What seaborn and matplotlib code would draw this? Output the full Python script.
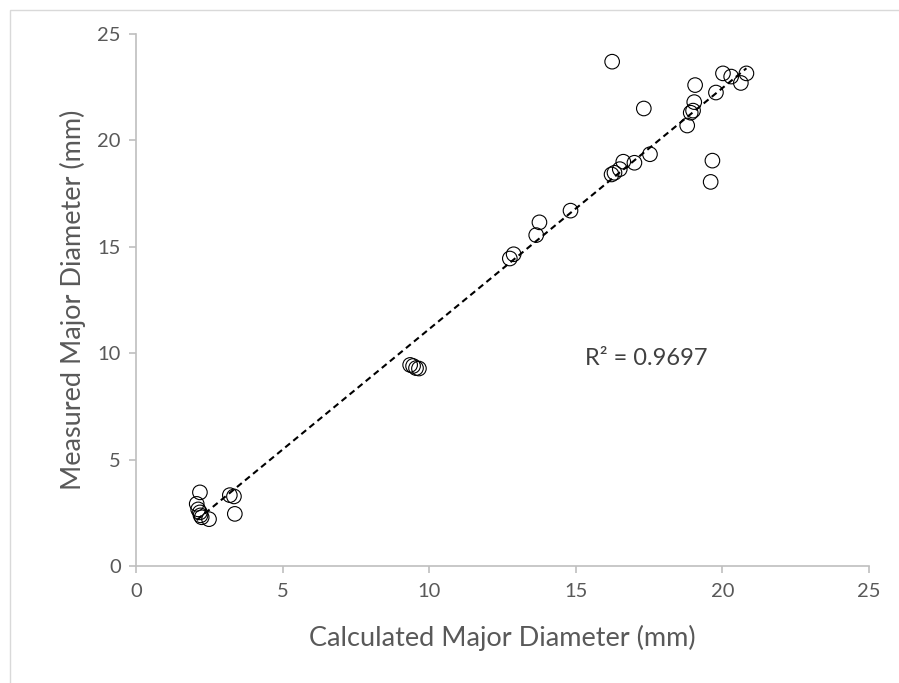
import matplotlib
matplotlib.use("Agg")
import matplotlib.pyplot as plt
import seaborn as sns
import pandas as pd
from matplotlib.patches import Rectangle

calculated = [2.18, 2.07, 2.12, 2.18, 2.2, 2.24, 2.49, 3.2, 3.34, 3.37,
              9.35, 9.45, 9.55, 9.65,
              12.75, 12.88, 13.65, 13.76, 14.82,
              16.24, 17.32, 17.53, 17.0, 16.62, 16.5, 16.32, 16.22,
              19.66, 19.6, 18.8, 18.92, 19.0, 19.04, 19.07, 19.78,
              20.02, 20.3, 20.63, 20.82]
measured = [3.46, 2.92, 2.66, 2.52, 2.38, 2.29, 2.2, 3.33, 3.27, 2.45,
            9.45, 9.4, 9.3, 9.28,
            14.45, 14.65, 15.55, 16.15, 16.7,
            23.7, 21.5, 19.35, 18.95, 19.0, 18.65, 18.48, 18.4,
            19.05, 18.05, 20.7, 21.3, 21.4, 21.8, 22.6, 22.25,
            23.15, 23.0, 22.7, 23.15]
x_ticks = [0, 5, 10, 15, 20, 25]
y_ticks = [0, 5, 10, 15, 20, 25]
r2_label = "R² = 0.9697"

df = pd.DataFrame({"calc": calculated, "meas": measured})

sns.set_style("white")
plt.rcParams['font.family'] = ['Lato', 'DejaVu Sans']

fig = plt.figure(figsize=(8.99, 6.83), dpi=100)
ax = fig.add_axes([0.1513, 0.1713, 0.8153, 0.7789])

fig.patches.append(Rectangle((10/899, -0.1), 1.2, 1 - 10/683 + 0.1,
                             transform=fig.transFigure, fill=False,
                             edgecolor="#D9D9D9", linewidth=1.0))

sns.regplot(data=df, x="calc", y="meas", ax=ax, ci=None, scatter=False,
            line_kws=dict(color="black", linestyle=(0, (3, 2)), linewidth=1.5))
sns.scatterplot(data=df, x="calc", y="meas", ax=ax, s=110,
                facecolor="none", edgecolor="black", linewidth=0.8, zorder=3)

ax.set_xlim(0, 25)
ax.set_ylim(0, 25)
ax.set_xticks(x_ticks)
ax.set_yticks(y_ticks)

gray = "#BFBFBF"
for side in ["top", "right"]:
    ax.spines[side].set_visible(False)
for side in ["left", "bottom"]:
    ax.spines[side].set_color(gray)
    ax.spines[side].set_linewidth(1.2)
ax.tick_params(axis="both", which="major", length=5, width=1.2, color=gray,
               labelcolor="#595959", labelsize=14.5, direction="out",
               bottom=True, left=True)
ax.tick_params(axis="x", pad=7)
ax.tick_params(axis="y", pad=6)

ax.set_xlabel("Calculated Major Diameter (mm)", fontsize=19.5, color="#595959", labelpad=18)
ax.set_ylabel("Measured Major Diameter (mm)", fontsize=19.5, color="#595959", labelpad=8)

ax.text(17.4, 9.77, r2_label, fontsize=17, color="#404040", va="center", ha="center")

fig.savefig("out.png", dpi=100)
